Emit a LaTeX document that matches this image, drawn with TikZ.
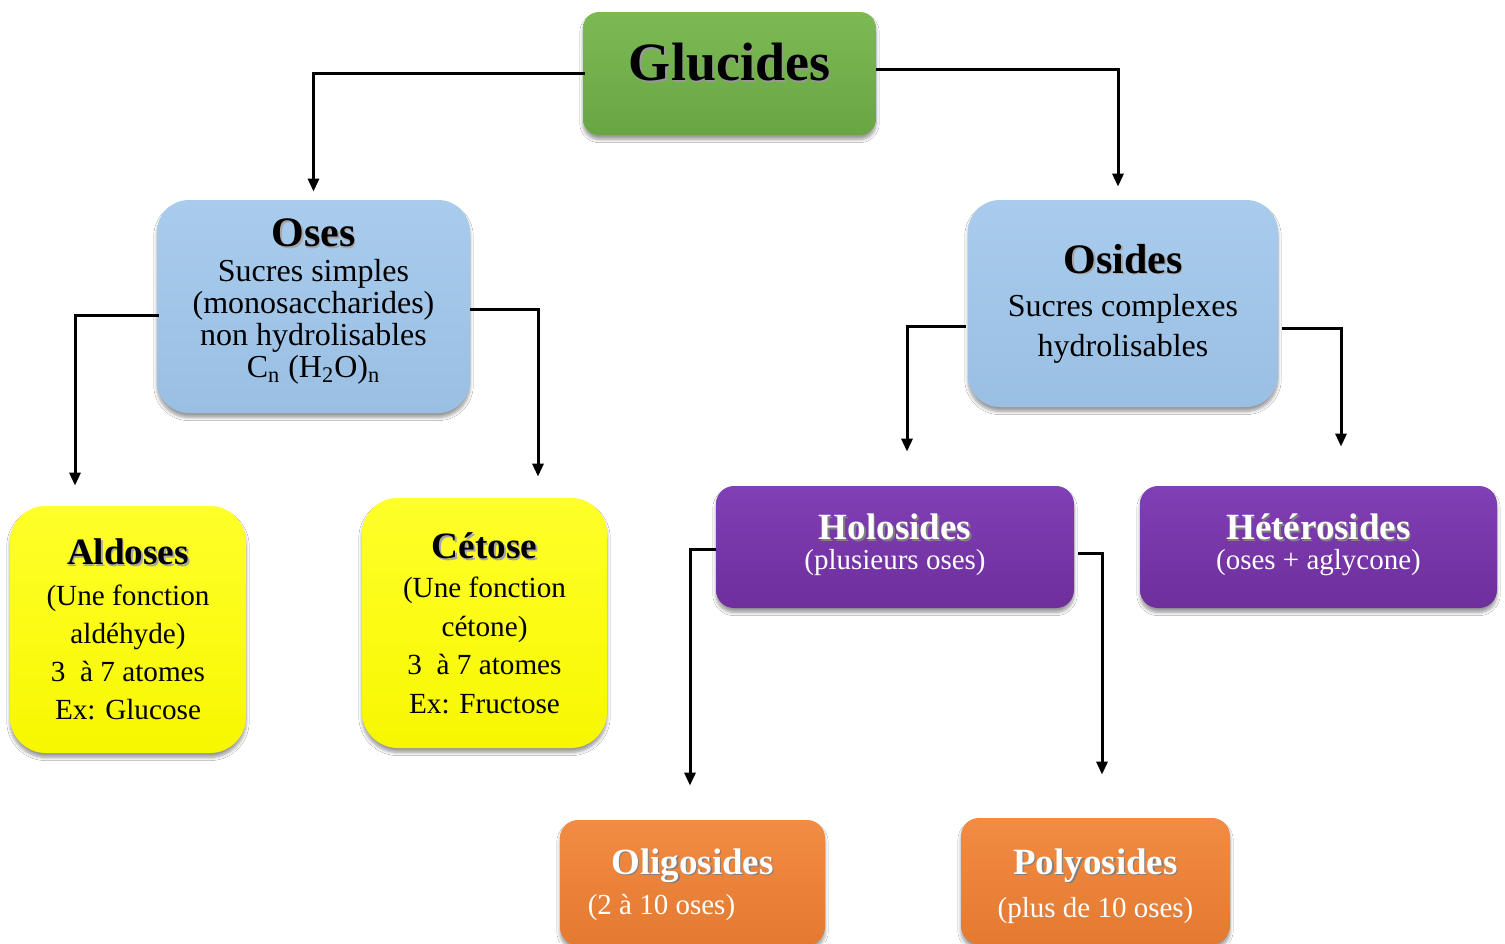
\documentclass[tikz,border=0pt]{standalone}
\usepackage{fontspec}
\setmainfont{Liberation Serif}
\usetikzlibrary{arrows.meta,shadows.blur}
\definecolor{gluA}{HTML}{7BBA53}
\definecolor{gluB}{HTML}{67A643}
\definecolor{bluA}{HTML}{A9CCED}
\definecolor{bluB}{HTML}{99BFE3}
\definecolor{yelA}{HTML}{FFFF2A}
\definecolor{yelB}{HTML}{F7F700}
\definecolor{purA}{HTML}{8040B6}
\definecolor{purB}{HTML}{6E2E9C}
\definecolor{oraA}{HTML}{F28B43}
\definecolor{oraB}{HTML}{E47A31}
\newcommand{\shtitle}[2]{\leavevmode\rlap{\kern0.8pt\raisebox{-0.8pt}{\textcolor{#1}{#2}}}#2}
\newcommand{\addDepth}[2]{\raisebox{0pt}[\height][\dimexpr\depth+#1\relax]{#2}}
\newcommand{\addHeight}[2]{\raisebox{0pt}[\dimexpr\height+#1\relax][\depth]{#2}}
\tikzset{
  box/.style={rectangle, rounded corners=#1, draw=none, align=center, inner sep=0pt,
    blur shadow={shadow xshift=0pt, shadow yshift=-2.2pt, shadow blur radius=1.6pt,
      shadow blur steps=6, shadow opacity=40}},
  glubox/.style={box=8pt, top color=gluA, bottom color=gluB},
  blubox/.style={box=16pt, top color=bluA, bottom color=bluB},
  yelbox/.style={box=18pt, top color=yelA, bottom color=yelB},
  purbox/.style={box=9pt, top color=purA, bottom color=purB, text=white},
  orabox/.style={box=9pt, top color=oraA, bottom color=oraB, text=white},
  conn/.style={line width=1.5pt, -{Triangle[length=6.5pt,width=5.5pt]}}
}
\begin{document}
\begin{tikzpicture}[x=0.5pt,y=-0.5pt]
\clip (0,0) rectangle (1505,943);
\fill[white] (0,0) rectangle (1505,943);

\node[glubox, minimum width=146.5pt, minimum height=61.5pt,
  font=\bfseries\fontsize{27}{27}\selectfont] (glu) at (729.5,73.5)
  {\addDepth{10.5pt}{\shtitle{black!40}{Glucides}}};

\node[blubox, minimum width=156.5pt, minimum height=106.5pt,
  font=\fontsize{16}{16}\selectfont] (oses) at (313.5,306.5)
  {{\bfseries\fontsize{21}{21}\selectfont\shtitle{black!35}{Oses}}\\[1.5pt]
   Sucres simples\\(monosaccharides)\\non hydrolisables\\
   \addDepth{5pt}{C\textsubscript{n} (H\textsubscript{2}O)\textsubscript{n}}};

\node[blubox, minimum width=155pt, minimum height=103.5pt,
  font=\fontsize{16}{20}\selectfont] (osides) at (1123,303.5)
  {{\bfseries\fontsize{21}{21}\selectfont\shtitle{black!35}{Osides}}\\[1.5pt]
   Sucres complexes\\hydrolisables};

\node[yelbox, minimum width=118pt, minimum height=123.5pt,
  font=\fontsize{14.6}{19}\selectfont] (ald) at (128,629.5)
  {{\bfseries\fontsize{18.6}{19}\selectfont\shtitle{black!35}{Aldoses}}\\[1.5pt]
   (Une fonction\\aldéhyde)\\3~ à 7 atomes\\Ex: Glucose};

\node[yelbox, minimum width=122.5pt, minimum height=125pt,
  font=\fontsize{14.6}{19.2}\selectfont] (cet) at (484.5,623)
  {{\bfseries\fontsize{18.6}{19}\selectfont\shtitle{black!35}{Cétose}}\\[0.5pt]
   (Une fonction\\cétone)\\3~ à 7 atomes\\Ex: Fructose};

\node[purbox, minimum width=179pt, minimum height=61pt,
  font=\fontsize{14.5}{15}\selectfont] (holo) at (895,547)
  {{\bfseries\fontsize{18.5}{18.5}\selectfont\shtitle{black!50}{Holosides}}\\
   \addDepth{2pt}{(plusieurs oses)}};

\node[purbox, minimum width=178.5pt, minimum height=61pt,
  font=\fontsize{14.5}{15}\selectfont] (hetero) at (1318.5,547)
  {{\bfseries\fontsize{18.5}{18.5}\selectfont\shtitle{black!50}{Hétérosides}}\\
   \addDepth{2pt}{(oses + aglycone)}};

\node[orabox, minimum width=132.5pt, minimum height=62.5pt,
  font=\fontsize{14.5}{20}\selectfont] (oligo) at (692.5,882.5)
  {\addHeight{2pt}{\bfseries\fontsize{18.5}{18.5}\selectfont\shtitle{black!50}{Oligosides}}\\
   (2 à 10 oses)\hspace*{31pt}};

\node[orabox, minimum width=134.5pt, minimum height=63pt,
  font=\fontsize{14.5}{21.5}\selectfont] (poly) at (1095.5,881)
  {\addHeight{5pt}{\bfseries\fontsize{18.5}{18.5}\selectfont\shtitle{black!50}{Polyosides}}\\
   (plus de 10 oses)};

% connectors
\draw[conn, shorten <=-1pt, shorten >=4pt] (glu.west) -| (oses.north);
\draw[conn, shorten >=6.5pt] ([yshift=2.25pt]glu.east) -| ([xshift=-2.5pt]osides.north);
\draw[conn, shorten <=-1pt, shorten >=10pt] ([yshift=-4.25pt]oses.west) -| ([xshift=-26.5pt]ald.north);
\draw[conn, shorten >=10.5pt] ([yshift=-1.25pt]oses.east) -| ([xshift=26.75pt]cet.north);
\draw[conn, shorten <=1pt, shorten >=17pt] ([yshift=-11.25pt]osides.west) -| ([xshift=6pt]holo.north);
\draw[conn, shorten <=2pt, shorten >=19.5pt] ([yshift=-12.25pt]osides.east) -| ([xshift=11.25pt]hetero.north);
\draw[conn, shorten >=17pt] ([yshift=-1pt]holo.west) -| ([xshift=-1.25pt]oligo.north);
\draw[conn, shorten <=2pt, shorten >=21.5pt] ([yshift=-3pt]holo.east) -| ([xshift=3.25pt]poly.north);
\end{tikzpicture}
\end{document}
